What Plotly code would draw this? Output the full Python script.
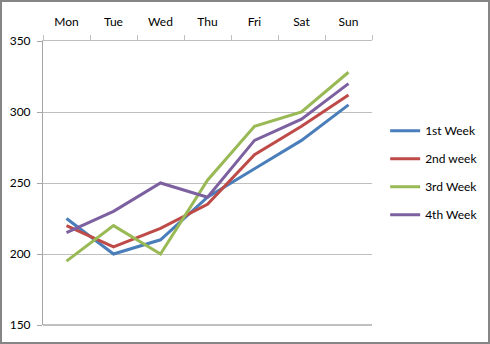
import plotly.graph_objects as go

days = ["Mon", "Tue", "Wed", "Thu", "Fri", "Sat", "Sun"]
week1 = [225, 200, 210, 240, 260, 280, 305]
week2 = [220, 205, 218, 235, 270, 290, 312]
week3 = [195, 220, 200, 252, 290, 300, 328]
week4 = [215, 230, 250, 240, 280, 295, 320]
series_names = ["1st Week", "2nd week", "3rd Week", "4th Week"]
colors = ["#4A7EBB", "#BE4B48", "#98B954", "#7D60A0"]

fig = go.Figure()
for name, vals, c in zip(series_names, [week1, week2, week3, week4], colors):
    fig.add_trace(go.Scatter(x=days, y=vals, mode="lines", name=name,
                             legendgroup=name,
                             line=dict(color=c, width=3)))

W, H = 490, 344
ml, mr, mt, mb = 43, 118, 41, 19
pw, ph = W - ml - mr, H - mt - mb

fig.update_layout(
    width=W, height=H,
    margin=dict(l=ml, r=mr, t=mt, b=mb, autoexpand=False),
    paper_bgcolor="white", plot_bgcolor="white",
    font=dict(family="Lato, Open Sans, sans-serif", size=12, color="#000000"),
    showlegend=True,
    legend=dict(x=1.040, y=0.735, xanchor="left", yanchor="top",
                font=dict(size=12), tracegroupgap=9, itemwidth=30,
                bgcolor="rgba(0,0,0,0)"),
    xaxis=dict(type="category", side="top", showgrid=False,
               range=[-0.5, len(days) - 0.5], automargin=False,
               showline=True, linecolor="#BFBFBF", linewidth=1,
               ticks="outside", tickson="boundaries", ticklen=5,
               tickcolor="#BFBFBF", tickfont=dict(size=12),
               ticklabelstandoff=9),
    yaxis=dict(range=[150, 350], dtick=50, showgrid=True, automargin=False,
               gridcolor="#BFBFBF", gridwidth=1,
               showline=True, linecolor="#A6A6A6", linewidth=1,
               ticks="outside", ticklen=5, tickcolor="#A6A6A6",
               zeroline=False, tickfont=dict(size=12),
               ticklabelstandoff=4),
    shapes=[
        dict(type="line", xref="paper", yref="paper", x0=0, x1=1, y0=0, y1=0,
             line=dict(color="#808080", width=1)),
        dict(type="rect", xref="paper", yref="paper",
             x0=-(ml - 1) / pw, x1=(pw + mr - 1) / pw,
             y0=-(mb - 1) / ph, y1=(ph + mt - 1) / ph,
             line=dict(color="#868686", width=2)),
    ],
)

fig.write_html("out.html", config={"displayModeBar": False},
               post_script="document.body.style.margin='0';document.body.style.overflow='hidden';")
